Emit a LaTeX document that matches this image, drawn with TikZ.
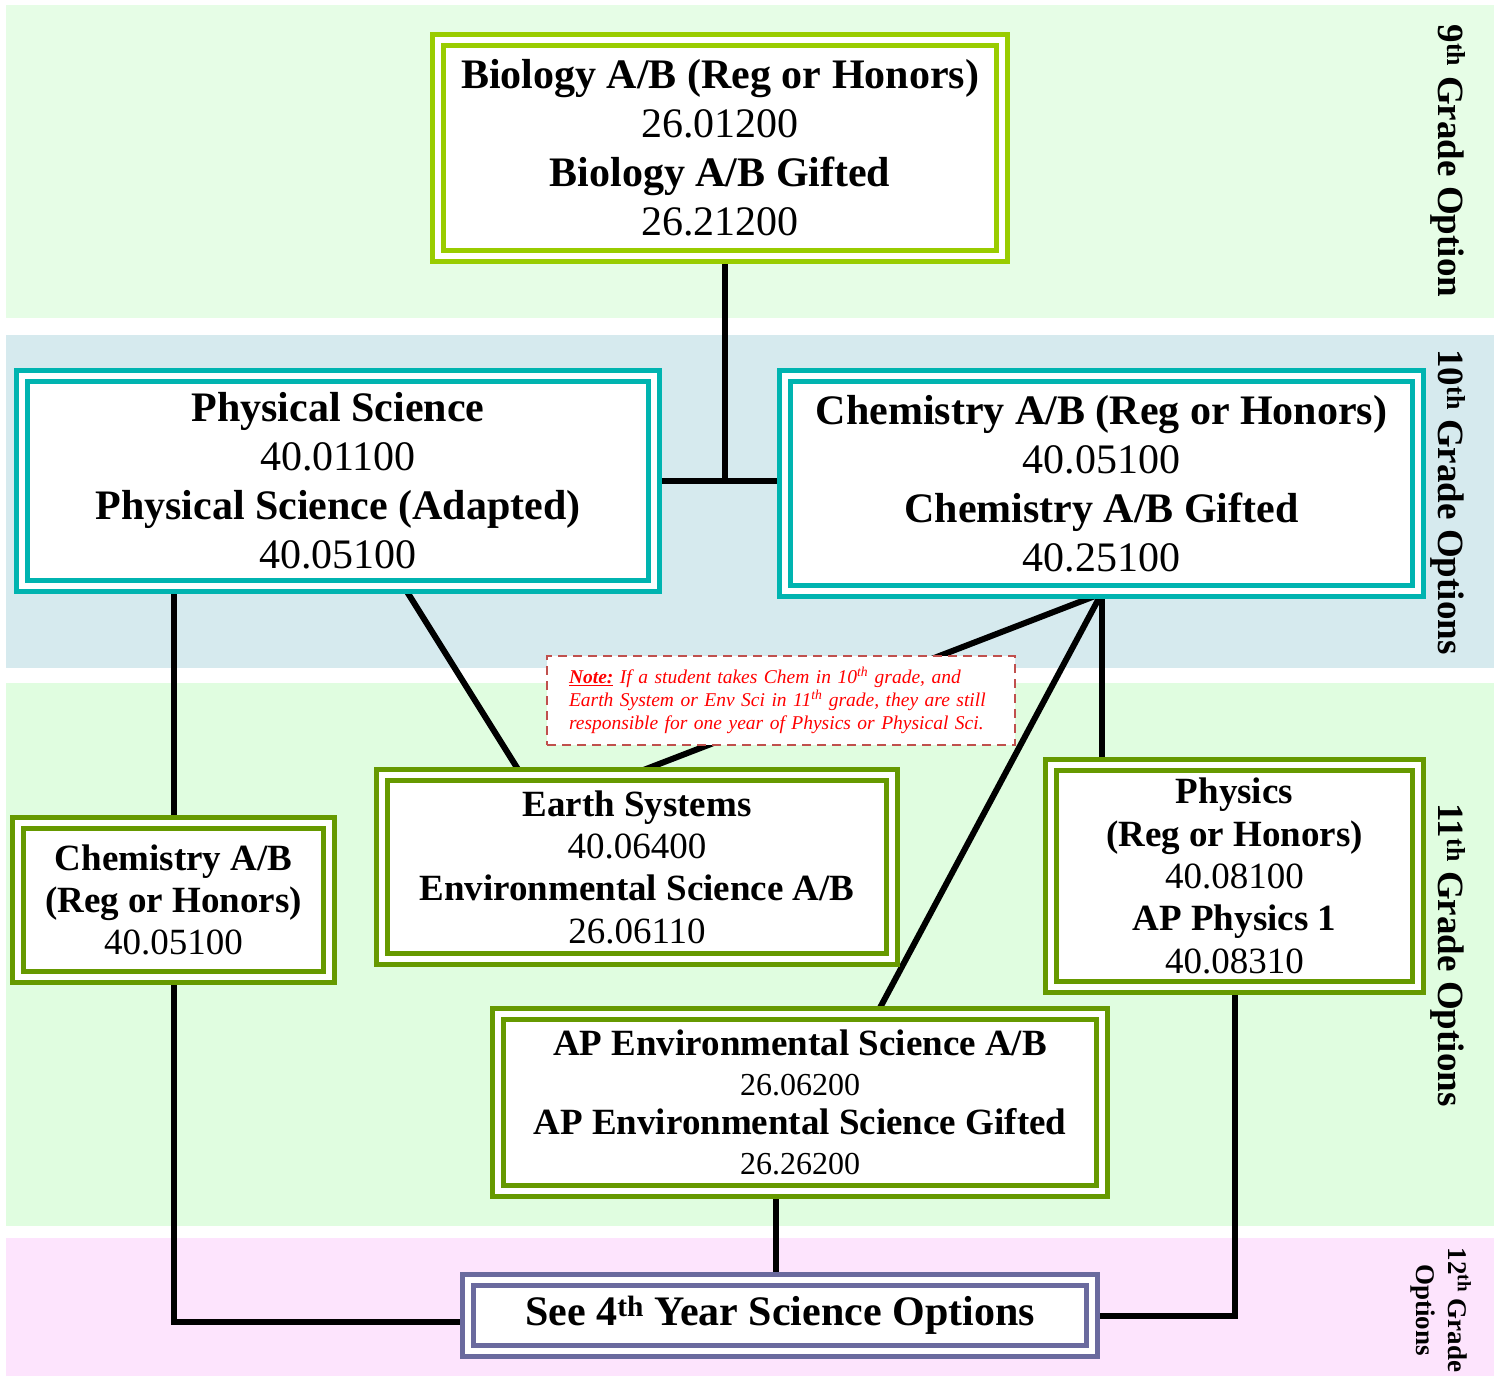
\documentclass[tikz,border=0pt]{standalone}
\usepackage{fontspec}
\setmainfont{Liberation Serif}
\usetikzlibrary{calc, backgrounds}

\definecolor{bandnine}{HTML}{E6FDE6}
\definecolor{bandten}{HTML}{D6EAEE}
\definecolor{bandeleven}{HTML}{E0FDE0}
\definecolor{bandtwelve}{HTML}{FDE4FD}
\definecolor{biogreen}{HTML}{99CC00}
\definecolor{tenteal}{HTML}{00B4B0}
\definecolor{olive}{HTML}{669900}
\definecolor{seepurple}{HTML}{6A6A9E}
\definecolor{notered}{HTML}{C0504D}

\newcommand{\boxbig}{\fontsize{42}{49}\selectfont}
\newcommand{\boxmid}{\fontsize{37}{42.3}\selectfont}
\newcommand{\boxnum}{\fontsize{32}{39.5}\selectfont}

\tikzstyle{course} = [rectangle, line width=5pt, double=white, double distance=6pt, fill=white, inner sep=0pt, align=center]
\tikzstyle{ninth} = [course, draw=biogreen, font=\boxbig]
\tikzstyle{tenth} = [course, draw=tenteal, font=\boxbig]
\tikzstyle{eleventh} = [course, draw=olive, font=\boxmid]
\tikzstyle{twelfth} = [course, draw=seepurple, font=\boxbig\bfseries]
\tikzstyle{note} = [rectangle, draw=notered, line width=2.5pt, dash pattern=on 9pt off 6pt, fill=white, text=red, font=\itshape\fontsize{19.5}{23}\selectfont, align=left, text width=424pt, inner sep=0pt, minimum width=468pt, minimum height=89pt]
\tikzstyle{grade} = [rotate=-90, font=\bfseries\fontsize{37}{40}\selectfont, align=center]
\tikzstyle{link} = [line width=6pt, black]

\begin{document}
\begin{tikzpicture}[x=1pt, y=-1pt]
\useasboundingbox (0,0) rectangle (1499,1376);

% Grade bands
\begin{scope}[on background layer]
\fill [bandnine] (6,5) rectangle (1494,318);
\fill [bandten] (6,335) rectangle (1494,668);
\fill [bandeleven] (6,683) rectangle (1494,1226);
\fill [bandtwelve] (6,1238) rectangle (1494,1376);
\end{scope}

% Nodes for Courses
\node (bio) [ninth, minimum width=564pt, minimum height=216pt] at (720,148)
  {\textbf{Biology A/B (Reg or Honors)}\\26.01200\\\textbf{Biology A/B Gifted}\\26.21200};
\node (physsci) [tenth, minimum width=632pt, minimum height=210pt] at (338,481)
  {\textbf{Physical Science}\\40.01100\\\textbf{Physical Science (Adapted)}\\40.05100};
\node (chem) [tenth, minimum width=633pt, minimum height=215pt] at (1101.5,483.5)
  {\textbf{Chemistry A/B (Reg or Honors)}\\40.05100\\\textbf{Chemistry A/B Gifted}\\40.25100};
\node (chemab) [eleventh, minimum width=311pt, minimum height=154pt] at (173.5,900)
  {\textbf{Chemistry A/B}\\\textbf{(Reg or Honors)}\\40.05100};
\node (earth) [eleventh, minimum width=510pt, minimum height=184pt] at (637,867)
  {\textbf{Earth Systems}\\40.06400\\\textbf{Environmental Science A/B}\\26.06110};
\node (physics) [eleventh, minimum width=367pt, minimum height=222pt] at (1234.5,876)
  {\textbf{Physics}\\\textbf{(Reg or Honors)}\\40.08100\\\textbf{AP Physics 1}\\40.08310};
\node (apenv) [eleventh, font=\fontsize{37}{39.5}\selectfont, minimum width=604pt, minimum height=177pt] at (800,1102.5)
  {\textbf{AP Environmental Science A/B}\\{\boxnum 26.06200}\\\textbf{AP Environmental Science Gifted}\\{\boxnum 26.26200}};
\node (see) [twelfth, minimum width=624pt, minimum height=71pt] at (780,1315.5)
  {See 4\textsuperscript{th} Year Science Options};

% Note
\node (chemnote) [note] at (781,700.5)
  {\textbf{\underline{Note:}} If a student takes Chem in 10\textsuperscript{th} grade, and\\
   Earth System or Env Sci in 11\textsuperscript{th} grade, they are still\\
   responsible for one year of Physics or Physical Sci.};

% Grade labels
\node (gnine) [grade] at (1448,161) {9\textsuperscript{th} Grade Option};
\node (gten) [grade] at (1448,502) {10\textsuperscript{th} Grade Options};
\node (geleven) [grade] at (1448,955) {11\textsuperscript{th} Grade Options};
\node (gtwelve) [grade, font=\bfseries\fontsize{27}{32}\selectfont] at (1441,1310) {12\textsuperscript{th} Grade\\Options};

% Lines for Courses
\begin{scope}[on background layer]
\coordinate (tee) at ([xshift=5pt]bio.south |- physsci.east);
\draw [link] ([xshift=5pt]bio.south) -- (tee);
\draw [link] (physsci.east) -- (physsci.east -| chem.west);
\draw [link] (chemab.north |- physsci.south) -- (chemab.north);
\draw [link] ([xshift=67pt]physsci.south) -- ([xshift=-117pt]earth.north);
\draw [link] (chem.south) -- (earth.north);
\draw [link] (chem.south) -- ([xshift=78pt]apenv.north);
\draw [link] (chem.south) -- (chem.south |- physics.north);
\draw [link] (chemab.south) |- ([yshift=-6pt]see.west);
\draw [link] ([xshift=-4pt]see.north |- apenv.south) -- ([xshift=-4pt]see.north);
\draw [link] (physics.south) |- (see.east);
\end{scope}

\end{tikzpicture}
\end{document}
